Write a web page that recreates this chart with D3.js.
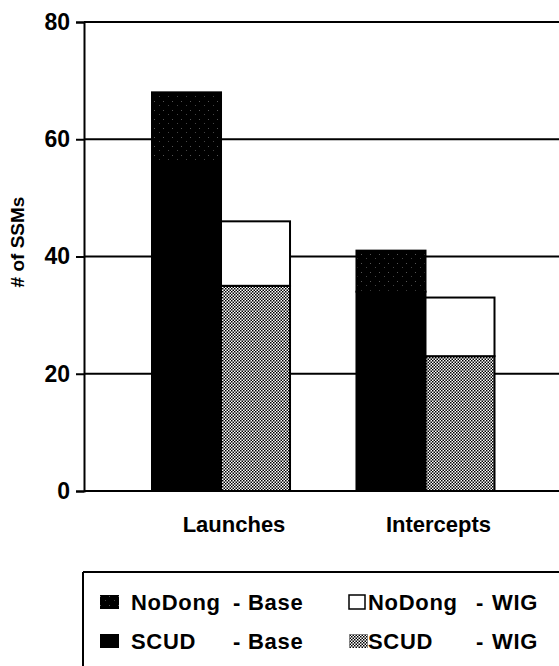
<!DOCTYPE html>
<html>
<head>
<meta charset="utf-8">
<script src="https://cdn.jsdelivr.net/npm/d3@7"></script>
<style>
  body { margin: 0; background: #fff; }
  text { font-family: "Liberation Sans", Arial, sans-serif; font-weight: bold; fill: #000; }
</style>
</head>
<body>
<svg id="chart" width="559" height="666"></svg>
<script>
// values
var categories = ['Launches', 'Intercepts'];
var cases = ['Base', 'WIG'];
var scudBase = [56, 34];
var noDongBase = [12, 7];
var scudWig = [35, 23];
var noDongWig = [11, 10];
var yTicks = [0, 20, 40, 60, 80];
var legendRows = [
  [{ key: 'nodongBase', name: 'NoDong', kind: 'Base' }, { key: 'nodongWig', name: 'NoDong', kind: 'WIG' }],
  [{ key: 'scudBase', name: 'SCUD', kind: 'Base' }, { key: 'scudWig', name: 'SCUD', kind: 'WIG' }]
];

var svg = d3.select('#chart');

/////////////
// patterns
/////////////
var defs = svg.append('defs');

var dark = defs.append('pattern')
  .attr('id', 'nodongBase')
  .attr('patternUnits', 'userSpaceOnUse')
  .attr('width', 9).attr('height', 9);
dark.append('rect').attr('width', 9).attr('height', 9).attr('fill', '#000');
dark.append('rect').attr('x', 1).attr('y', 2).attr('width', 1).attr('height', 1).attr('fill', '#555');
dark.append('rect').attr('x', 6).attr('y', 6).attr('width', 1).attr('height', 1).attr('fill', '#444');

var grey = defs.append('pattern')
  .attr('id', 'scudWig')
  .attr('patternUnits', 'userSpaceOnUse')
  .attr('width', 3).attr('height', 3);
grey.append('rect').attr('width', 3).attr('height', 3).attr('fill', '#fff');
grey.append('rect').attr('width', 1.5).attr('height', 1.5).attr('fill', '#000');
grey.append('rect').attr('x', 1.5).attr('y', 1.5).attr('width', 1.5).attr('height', 1.5).attr('fill', '#000');

var fills = {
  nodongBase: 'url(#nodongBase)',
  scudBase: '#000',
  nodongWig: '#fff',
  scudWig: 'url(#scudWig)'
};

/////////////
// scales
/////////////
var y = d3.scaleLinear().domain([0, 80]).range([491, 22]);

var x = d3.scaleBand()
  .domain(categories)
  .range([152, 494.5])
  .paddingInner(0.325)
  .paddingOuter(0);

var xSub = d3.scaleBand()
  .domain(cases)
  .range([0, x.bandwidth()]);

// grid lines across the whole plot
svg.append('g')
  .selectAll('line')
  .data(yTicks)
  .enter().append('line')
  .attr('x1', 84).attr('x2', 559)
  .attr('y1', function (d) { return y(d); })
  .attr('y2', function (d) { return y(d); })
  .attr('stroke', '#000')
  .attr('stroke-width', 2);

// left axis
var yAxis = d3.axisLeft(y)
  .tickValues(yTicks)
  .tickSize(8)
  .tickPadding(6);

var axisG = svg.append('g')
  .attr('transform', 'translate(84,0)')
  .call(yAxis);
axisG.select('.domain').attr('stroke', '#000').attr('stroke-width', 2);
axisG.selectAll('.tick line').attr('stroke', '#000').attr('stroke-width', 2);
axisG.selectAll('.tick text')
  .attr('font-size', 23)
  .attr('font-family', '"Liberation Sans", Arial, sans-serif')
  .attr('font-weight', 'bold')
  .attr('fill', '#000');

svg.append('text')
  .attr('transform', 'translate(24,242) rotate(-90)')
  .attr('text-anchor', 'middle')
  .attr('font-size', 19)
  .text('# of SSMs');

/////////////
// bars
/////////////
var segments = [];
categories.forEach(function (c, i) {
  segments.push({ cat: c, kase: 'Base', key: 'scudBase', y0: 0, y1: scudBase[i] });
  segments.push({ cat: c, kase: 'Base', key: 'nodongBase', y0: scudBase[i], y1: scudBase[i] + noDongBase[i] });
  segments.push({ cat: c, kase: 'WIG', key: 'scudWig', y0: 0, y1: scudWig[i] });
  segments.push({ cat: c, kase: 'WIG', key: 'nodongWig', y0: scudWig[i], y1: scudWig[i] + noDongWig[i] });
});

svg.append('g')
  .selectAll('rect')
  .data(segments)
  .enter().append('rect')
  .attr('x', function (d) { return x(d.cat) + xSub(d.kase); })
  .attr('y', function (d) { return y(d.y1); })
  .attr('width', xSub.bandwidth())
  .attr('height', function (d) { return y(d.y0) - y(d.y1); })
  .attr('fill', function (d) { return fills[d.key]; })
  .attr('stroke', '#000')
  .attr('stroke-width', 2);

// category labels
svg.append('g')
  .selectAll('text')
  .data(categories)
  .enter().append('text')
  .attr('x', function (d) { return x(d) + x.bandwidth() / 2 + 13; })
  .attr('y', 532)
  .attr('text-anchor', 'middle')
  .attr('font-size', 22)
  .text(function (d) { return d; });

/////////////
// legend
/////////////
var legend = svg.append('g');
legend.append('line')
  .attr('x1', 83).attr('x2', 559).attr('y1', 572).attr('y2', 572)
  .attr('stroke', '#000').attr('stroke-width', 2);
legend.append('line')
  .attr('x1', 83).attr('x2', 83).attr('y1', 572).attr('y2', 666)
  .attr('stroke', '#000').attr('stroke-width', 2);

var colX = [{ box: 100, name: 131, dash: 233, kind: 248 }, { box: 349, name: 368, dash: 476, kind: 492 }];
var rowY = [610, 649];

legendRows.forEach(function (row, r) {
  row.forEach(function (item, c) {
    var cx = colX[c];
    var base = rowY[r];
    legend.append('rect')
      .attr('x', cx.box).attr('y', base - 15)
      .attr('width', item.key === 'nodongWig' ? 16 : 19).attr('height', 14)
      .attr('fill', fills[item.key])
      .attr('stroke', item.key === 'nodongWig' ? '#000' : 'none')
      .attr('stroke-width', 1.5);
    legend.append('text').attr('x', cx.name).attr('y', base)
      .attr('font-size', 22).attr('letter-spacing', 0.7).text(item.name);
    legend.append('text').attr('x', cx.dash).attr('y', base).attr('font-size', 22).text('-');
    legend.append('text').attr('x', cx.kind).attr('y', base)
      .attr('font-size', 22).attr('letter-spacing', 0.7).text(item.kind);
  });
});
</script>
</body>
</html>
